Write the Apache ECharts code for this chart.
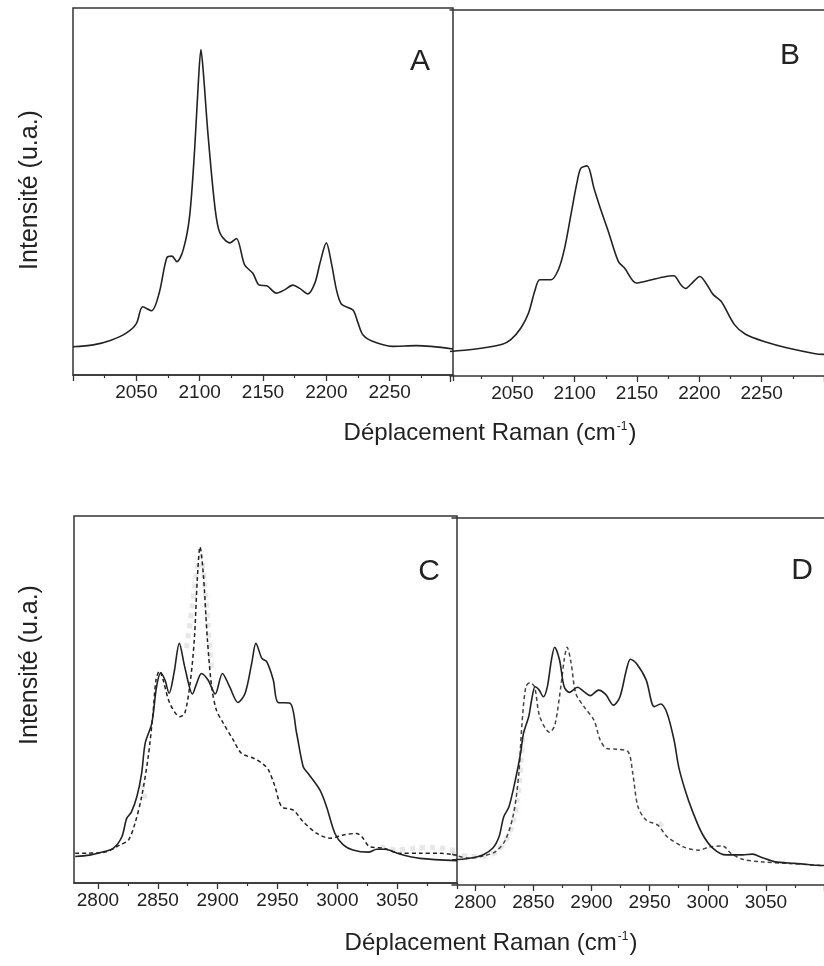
<!DOCTYPE html>
<html>
<head>
<meta charset="utf-8">
<script src="https://cdn.jsdelivr.net/npm/echarts@6/dist/echarts.min.js"></script>
<style>
  html, body { margin: 0; padding: 0; background: #ffffff; }
  #chart { width: 824px; height: 966px; }
</style>
</head>
<body>
<div id="chart"></div>
<script>
// Raman spectra: [wavenumber (cm-1), intensity (arbitrary units, 0-100 per panel)]
const spectrumA = [
  [2000, 7.7], [2016, 8.2], [2030, 9.5], [2042, 11.4], [2050, 14], [2055, 18.6], [2062, 17.5],
  [2068, 22.3], [2074, 31.9], [2078, 32.4], [2082, 30.9], [2087, 34.1], [2092, 43.1], [2096, 61.3],
  [2099, 80], [2101, 88.7], [2103, 82], [2106.5, 65.9], [2112, 45.9], [2116, 38.7], [2124, 36],
  [2129, 37.2], [2135.5, 30], [2142, 27.7], [2147, 24.5], [2153, 24.3], [2160.5, 22.3], [2167, 23.2],
  [2173.5, 24.5], [2179, 23.6], [2185.5, 22.1], [2191, 25.1], [2195, 30.5], [2200, 36], [2204, 30.5],
  [2208, 23.2], [2212, 19.3], [2221, 17.7], [2225, 14.2], [2229, 10.9], [2237, 9.1], [2252, 7.8],
  [2271, 8], [2300, 7.1]
];
const spectrumB = [
  [2000, 6.7], [2019, 7.3], [2042, 8.7], [2049, 10], [2057, 13.2], [2063, 17.2], [2068, 23.2],
  [2072, 26.3], [2081, 26.3], [2087, 29.1], [2092, 35], [2097, 44.1], [2102, 53.1], [2105, 56.8],
  [2110, 57.4], [2115.5, 51.3], [2121, 45.4], [2127, 39.5], [2135, 31.3], [2140, 29.5], [2149.5, 25.4],
  [2157, 25.9], [2170.5, 27], [2179.5, 27.4], [2185, 25], [2189, 23.9], [2193, 25], [2200.5, 27.2],
  [2206, 25], [2211, 22.3], [2217.5, 20.4], [2228, 14.1], [2237, 11.4], [2254, 9.2], [2270, 7.7],
  [2293, 6.1], [2300, 5.9]
];
const spectrumCSolid = [
  [2781, 7.2], [2793, 7.6], [2804.5, 8.5], [2813, 9.5], [2820, 12.6], [2824, 17.6], [2828, 19.4],
  [2832.5, 23.5], [2836.5, 29.9], [2839.5, 38.1], [2845, 43.5], [2849, 53.5], [2852.5, 57.3],
  [2856, 55.3], [2859.5, 51.7], [2863.5, 57.1], [2868, 65.3], [2872.5, 58.9], [2879, 51.5],
  [2882.5, 54.4], [2886.5, 57.1], [2892, 55.3], [2898, 51.5], [2904, 57.1], [2910, 53.5],
  [2917, 49.2], [2923, 51.7], [2928.5, 59.9], [2932, 65.3], [2937, 61.2], [2941, 60.3],
  [2946.5, 55.3], [2950.5, 49.2], [2960.5, 49], [2966, 40.8], [2971.5, 31.7], [2975.5, 29.9],
  [2985.5, 25.3], [2991, 20.8], [2998, 13.5], [3005, 10.4], [3013, 9], [3026, 8.4], [3033, 9.2],
  [3040, 9.2], [3052, 7.9], [3069, 6.7], [3100, 6.1]
];
const spectrumCDashed = [
  [2781, 8.1], [2804.5, 8.3], [2818.5, 10.4], [2825.5, 11.7], [2831, 16.3], [2836.5, 23.5],
  [2842, 34.4], [2846, 46.2], [2848.5, 55.3], [2851.5, 57.8], [2854.5, 55.3], [2860, 49],
  [2868.5, 45.3], [2872.5, 46.2], [2877, 54.4], [2880.5, 66.2], [2883, 82.6], [2885.3, 91.6],
  [2888, 84.4], [2891.5, 66.2], [2895, 53.5], [2899, 47.1], [2904.5, 43.7], [2913, 39],
  [2920, 35.3], [2930, 34], [2938, 32.4], [2942.5, 30.8], [2948, 26.2], [2953.5, 20.8],
  [2963, 19.9], [2971.5, 16.7], [2983, 13.5], [2994, 12.2], [3005, 13.1], [3016, 13.5],
  [3020.5, 12.6], [3027, 9.9], [3038.5, 9.5], [3052, 8.1], [3069, 8.1], [3086, 8.1], [3100, 7.6]
];
const hazeC = [
  [2837, 27], [2840, 22], [2841, '-'],
  [2874, 64], [2879, 76], [2883, 86], [2886, 89], [2889, 82], [2892, 70], [2895, 58], [2896, '-'],
  [3036, 9.8], [3050, 9], [3065, 9.5], [3080, 9.7], [3098, 8.8]
];
const spectrumDSolid = [
  [2780, 6.8], [2795, 7.3], [2806.5, 8.2], [2815, 10], [2820.5, 13.2], [2824.5, 18.6], [2829, 21.3],
  [2834.5, 28.6], [2839, 35.9], [2841.5, 41.3], [2846, 45.9], [2848.5, 50.4], [2851.5, 54],
  [2855, 53.1], [2858.5, 51.3], [2862, 54], [2865.5, 61.3], [2868.3, 64.8], [2872.5, 61.3],
  [2876.5, 54], [2881, 52.5], [2888, 53.9], [2893.5, 52.7], [2899, 51.6], [2906, 53.1],
  [2912, 52], [2919, 49], [2924.5, 51.3], [2930, 58.6], [2933.5, 61.5], [2938.5, 60.4],
  [2947, 55.9], [2954, 48.6], [2959.5, 49.3], [2965, 46.8], [2971, 39.5], [2975, 32.2],
  [2980.5, 25.9], [2986.5, 20.4], [2995, 14.1], [3004.5, 10], [3016, 8.2], [3030, 8.2],
  [3038.5, 8.4], [3046.5, 7.5], [3058, 6.3], [3075, 5.9], [3093, 5.4], [3100, 5.3]
];
const spectrumDDashed = [
  [2780, 8.4], [2795, 7.3], [2806.5, 7.9], [2817.5, 9.1], [2826, 12.3], [2833, 19.5], [2837.5, 30.4],
  [2840, 43.1], [2843.5, 54], [2847, 55.1], [2851, 54], [2855.5, 45.9], [2864, 41.6], [2868.5, 43.6],
  [2874, 55], [2876.5, 61.3], [2879, 64.8], [2882.5, 60.4], [2886.5, 52.2], [2893.5, 48.6],
  [2902, 45], [2907.5, 39.5], [2913, 37.2], [2921.5, 37], [2931.5, 36.3], [2935.5, 30.4],
  [2940, 21.3], [2947, 17.7], [2957, 16.3], [2965, 13.2], [2979, 10.4], [2992, 9.5], [3002, 10.4],
  [3013, 10.6], [3020, 8.6], [3030, 7], [3046.5, 6.3], [3069, 5.9], [3093, 5.4], [3100, 5.3]
];
const hazeD = [
  [2780, 8.6], [2795, 7.8], [2808, 7.9], [2818, 9], [2826, 12], [2832, 16.5], [2836.5, 24],
  [2839.5, 34], [2841.5, 42], [2842, '-'],
  [2958, 17], [2962, 15.5]
];

// axis ranges and tick values
const rangeLow = [2000, 2300];
const rangeHigh = [2780, 3100];
const majorLow = [2000, 2050, 2100, 2150, 2200, 2250, 2300];
const minorLow = [2025, 2075, 2125, 2175, 2225, 2275];
const labelsLow = [2050, 2100, 2150, 2200, 2250];
const majorHigh = [2800, 2850, 2900, 2950, 3000, 3050, 3100];
const minorHigh = [2825, 2875, 2925, 2975, 3025, 3075];
const labelsHigh = [2800, 2850, 2900, 2950, 3000, 3050];

const panelLetters = ['A', 'B', 'C', 'D'];
const xTitle = 'Déplacement Raman (cm{sup|-1})';
const yTitle = 'Intensité (u.a.)';

const ink = '#222222';
const frame = '#333333';
const font = '"Liberation Sans", Arial, Helvetica, sans-serif';

// panel rectangles (px)
const panels = [
  { left: 73, top: 8, width: 380, height: 367, range: rangeLow, major: majorLow, minor: minorLow, labels: labelsLow, boxed: true },
  { left: 450, top: 10, width: 382, height: 366, range: rangeLow, major: majorLow, minor: minorLow, labels: labelsLow, boxed: false },
  { left: 74, top: 516, width: 383, height: 367, range: rangeHigh, major: majorHigh, minor: minorHigh, labels: labelsHigh, boxed: true },
  { left: 452, top: 518, width: 380, height: 367, range: rangeHigh, major: majorHigh, minor: minorHigh, labels: labelsHigh, boxed: false }
];

const grids = [];
const xAxes = [];
const yAxes = [];
const mainX = [];
const mainY = [];

panels.forEach(function (p) {
  // main grid
  const g = grids.length;
  grids.push({
    left: p.left, top: p.top, width: p.width, height: p.height,
    show: p.boxed, borderColor: frame, borderWidth: 1.5, backgroundColor: 'transparent',
    containLabel: false
  });
  mainX.push(xAxes.length);
  xAxes.push({
    type: 'value', gridIndex: g, min: p.range[0], max: p.range[1], position: 'bottom',
    axisLine: { show: true, onZero: false, lineStyle: { color: frame, width: 1.5 } },
    axisTick: { show: true, length: 6, customValues: p.major, lineStyle: { color: frame, width: 1.3 } },
    axisLabel: {
      show: true, customValues: p.labels, margin: 8, fontSize: 19, color: ink, fontFamily: font,
      formatter: function (v) { return String(v); }
    },
    splitLine: { show: false }
  });
  if (!p.boxed) {
    // top frame line
    xAxes.push({
      type: 'value', gridIndex: g, min: p.range[0], max: p.range[1], position: 'top',
      axisLine: { show: true, onZero: false, lineStyle: { color: frame, width: 1.5 } },
      axisTick: { show: false }, axisLabel: { show: false }, splitLine: { show: false }
    });
  }
  mainY.push(yAxes.length);
  yAxes.push({ type: 'value', gridIndex: g, min: 0, max: 100, show: false });

  // overlay grid carrying the minor ticks
  const m = grids.length;
  grids.push({ left: p.left, top: p.top, width: p.width, height: p.height, show: false });
  xAxes.push({
    type: 'value', gridIndex: m, min: p.range[0], max: p.range[1], position: 'bottom',
    axisLine: { show: false, onZero: false },
    axisTick: { show: true, length: 3, customValues: p.minor, lineStyle: { color: frame, width: 1.2 } },
    axisLabel: { show: false }, splitLine: { show: false }
  });
  yAxes.push({ type: 'value', gridIndex: m, min: 0, max: 100, show: false });
});

function trace(panel, data, style) {
  return Object.assign({
    type: 'line', xAxisIndex: mainX[panel], yAxisIndex: mainY[panel], data: data,
    showSymbol: false, symbol: 'none', smooth: 0.3,
    animation: false, silent: true,
    lineStyle: { color: ink, width: 1.6 }
  }, style || {});
}

const dashed = { color: ink, width: 1.5, type: [4, 3] };
const haze = { color: 'rgba(160,160,160,0.22)', width: 5, type: 'dotted', shadowBlur: 5, shadowColor: 'rgba(160,160,160,0.4)' };

const series = [
  trace(0, spectrumA),
  trace(1, spectrumB),
  trace(2, hazeC, { lineStyle: haze, connectNulls: false, z: 1 }),
  trace(2, spectrumCDashed, { lineStyle: dashed }),
  trace(2, spectrumCSolid),
  trace(3, hazeD, { lineStyle: haze, connectNulls: false, z: 1 }),
  trace(3, spectrumDDashed, { lineStyle: Object.assign({}, dashed, { color: '#444' }) }),
  trace(3, spectrumDSolid)
];

const letterPos = [[420, 62], [790, 56], [429, 572], [802, 571]];
const graphics = [];
panelLetters.forEach(function (t, i) {
  graphics.push({
    type: 'text', x: letterPos[i][0], y: letterPos[i][1], silent: true,
    style: { text: t, fontSize: 30, fontFamily: font, fill: ink, align: 'center', verticalAlign: 'middle' }
  });
});
[[490, 433], [491, 943]].forEach(function (pos) {
  graphics.push({
    type: 'text', x: pos[0], y: pos[1], silent: true,
    style: {
      text: xTitle, fontSize: 24, fontFamily: font, fill: ink, align: 'center', verticalAlign: 'middle',
      rich: { sup: { fontSize: 12, fontFamily: font, fill: ink, verticalAlign: 'top', padding: [0, 1, 0, 1] } }
    }
  });
});
[[30, 190], [30, 665]].forEach(function (pos) {
  graphics.push({
    type: 'text', x: pos[0], y: pos[1], rotation: Math.PI / 2, silent: true,
    style: { text: yTitle, fontSize: 25, fontFamily: font, fill: ink, align: 'center', verticalAlign: 'middle' }
  });
});

const chart = echarts.init(document.getElementById('chart'), null, { renderer: 'canvas' });
chart.setOption({
  backgroundColor: '#ffffff',
  animation: false,
  grid: grids,
  xAxis: xAxes,
  yAxis: yAxes,
  series: series,
  graphic: graphics
});
</script>
</body>
</html>
